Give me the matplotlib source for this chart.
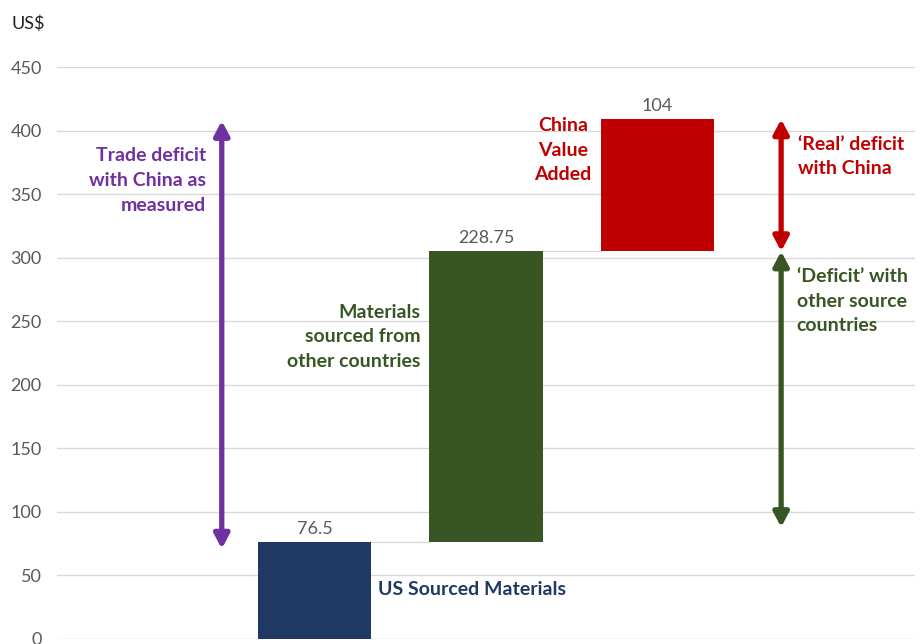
import numpy as np
import matplotlib.pyplot as plt

# waterfall data
steps = ['US Sourced Materials', 'Materials sourced from other countries', 'China Value Added']
values = [76.5, 228.75, 104]
value_labels = ['76.5', '228.75', '104']
colors = ['#203864', '#375623', '#C00000']

yticks = [0, 50, 100, 150, 200, 250, 300, 350, 400, 450]

plt.rcParams['font.family'] = ['Lato', 'DejaVu Sans']

tops = np.cumsum(values)
bottoms = tops - np.array(values)
x = np.arange(len(values))
width = 0.66

fig = plt.figure(figsize=(9.23, 6.44), dpi=100)
ax = fig.add_axes([0.0618, 0.0078, 0.9295, 0.8874])

ax.bar(x, values, width, bottom=bottoms, color=colors, zorder=3)

# connectors between bars
for i in range(len(values) - 1):
    ax.plot([x[i] + width / 2, x[i + 1] - width / 2], [tops[i], tops[i]],
            color='#D9D9D9', lw=1, zorder=2)

for xi, top, lab in zip(x, tops, value_labels):
    ax.text(xi, top + 4, lab, ha='center', va='bottom', fontsize=13, color='#595959')

ax.set_xlim(-1.5, 3.5)
ax.set_ylim(0, 450)
ax.set_yticks(yticks)
ax.set_xticks([])
ax.tick_params(axis='y', length=0, labelsize=13, labelcolor='#595959', pad=11)
ax.grid(axis='y', color='#D9D9D9', lw=1, zorder=0)
for s in ax.spines.values():
    s.set_visible(False)

fig.text(0.013, 0.963, 'US$', fontsize=13, color='#222222', va='center', ha='left')

# arrows
def double_arrow(xpos, y0, y1, col):
    ax.annotate('', xy=(xpos, y1), xytext=(xpos, y0),
                arrowprops=dict(arrowstyle='<|-|>,head_length=0.85,head_width=0.45',
                                color=col, lw=3.8, shrinkA=0, shrinkB=0),
                zorder=4)

purple = '#7030A0'
green = '#375623'
red = '#C00000'
double_arrow(-0.54, 71, 408, purple)
double_arrow(2.72, 305.25, 409.25, red)
double_arrow(2.72, 88, 305.25, green)

lab_kw = dict(fontsize=14, fontweight='bold', linespacing=1.55)
ax.text(-0.63, 361, 'Trade deficit\nwith China as\nmeasured', ha='right', va='center',
        color=purple, **lab_kw)
ax.text(0.62, 238, 'Materials\nsourced from\nother countries', ha='right', va='center',
        color=green, **lab_kw)
ax.text(1.45, 385, 'China\nValue\nAdded', ha='center', va='center', color=red, **lab_kw)
ax.text(2.82, 380, '\u2018Real\u2019 deficit\nwith China', ha='left', va='center',
        color=red, **lab_kw)
ax.text(2.81, 266, '\u2018Deficit\u2019 with\nother source\ncountries', ha='left', va='center',
        color=green, **lab_kw)
ax.text(0.37, 39, 'US Sourced Materials', ha='left', va='center', color='#203864', **lab_kw)

fig.savefig('out.png', dpi=100)
